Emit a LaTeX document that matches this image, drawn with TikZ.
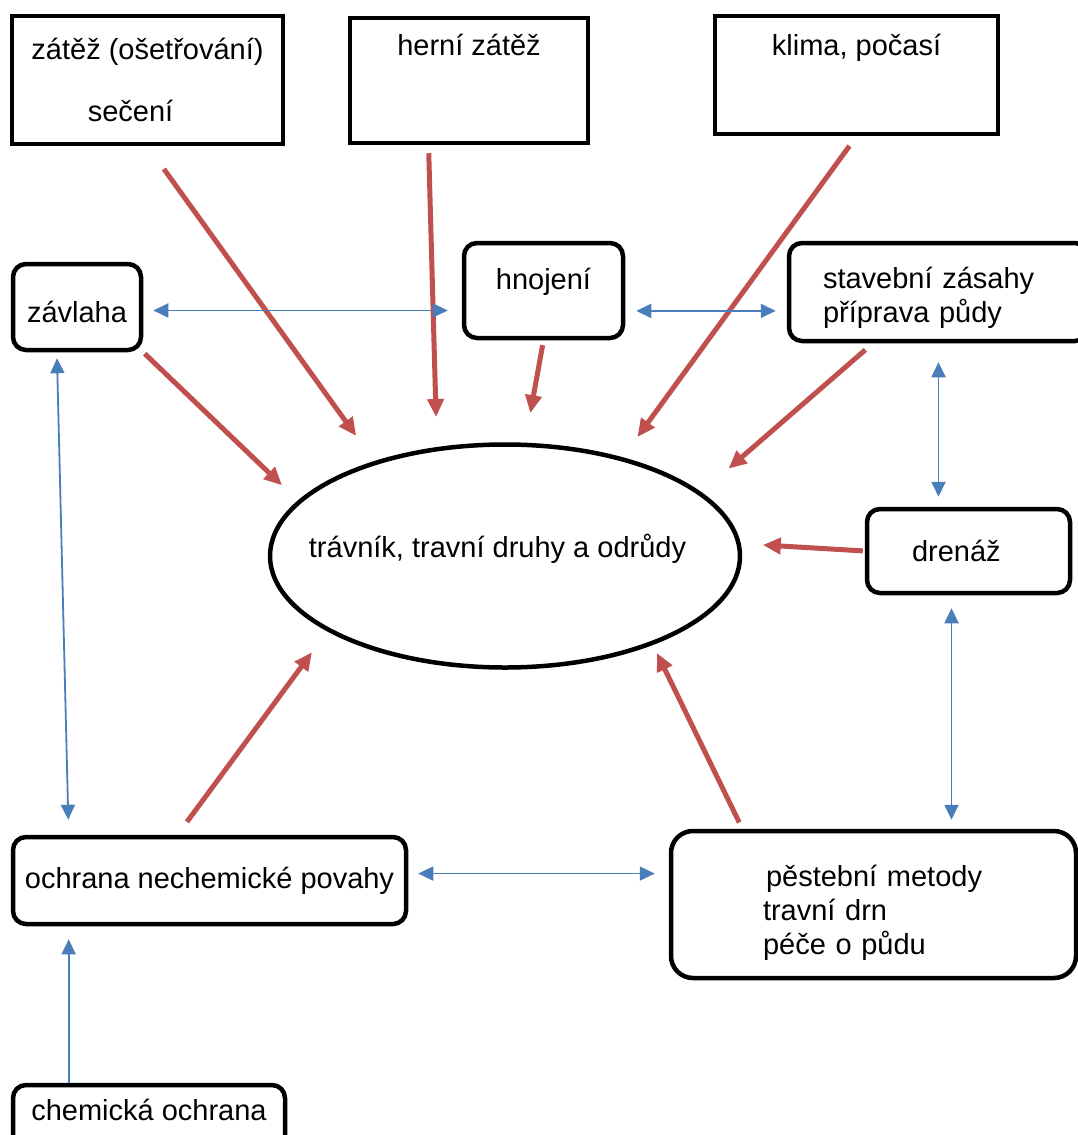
\documentclass[tikz,border=0pt]{standalone}
\usepackage{fontspec}
\setmainfont{Liberation Sans}
\usepackage{tikz}
\usetikzlibrary{arrows.meta,shapes.geometric,calc}
\definecolor{arrowred}{HTML}{C0504D}
\definecolor{arrowblue}{HTML}{4A7EBB}

\begin{document}
\begin{tikzpicture}[x=1pt, y=-1pt]
		% Define styles
		\tikzstyle{box}=[draw,line width=4.5pt,inner sep=0pt,font=\fontsize{29}{34}\selectfont]
		\tikzstyle{round box}=[box,rounded corners=13pt]
		\tikzstyle{red arrow}=[draw,arrowred,line width=5pt,-{Triangle[length=18pt,width=16pt]}]
		\tikzstyle{blue arrow}=[draw,arrowblue,line width=1.8pt,{Triangle[length=15pt,width=14pt]}-{Triangle[length=15pt,width=14pt]}]
		\tikzstyle{blue single}=[draw,arrowblue,line width=1.8pt,-{Triangle[length=15pt,width=14pt]}]
		
		\useasboundingbox (0,0) rectangle (1078,1135);
		
		% Top boxes
		\node[box, minimum width=271pt, minimum height=128pt, align=center] (zatez) at (147.5,80)
			{zátěž (ošetřování)\\[28pt]sečení\hspace*{34pt}};
		\node[box, minimum width=238pt, text height=37pt, text depth=88pt] (herni) at (469,80.5) {herní zátěž};
		\node[box, minimum width=283pt, text height=39pt, text depth=79pt] (klima) at (856.5,75) {klima, počasí};
		
		% Middle row
		\node[round box, minimum width=128pt, minimum height=86pt, text height=30pt, text depth=0pt] (zavlaha) at (77,307) {závlaha};
		\node[round box, minimum width=159pt, text height=46pt, text depth=49pt] (hnojeni) at (543.5,290.5) {hnojení};
		\node[round box, minimum height=98pt, inner xsep=34pt, text width=231pt, align=left] (stavebni) at (938.5,292)
			{\rule{0pt}{34pt}stavební zásahy\\příprava půdy};
		
		% The lawn
		\node[box, ellipse, minimum width=470pt, minimum height=223pt, text height=22pt, text depth=20pt] (travnik) at (505,556)
			{\makebox[0pt]{trávník, travní druhy a odrůdy\hspace*{15pt}}};
		\node[round box, minimum height=84pt, inner xsep=45pt, text width=113pt, align=left] (drenaz) at (968.5,551) {drenáž};
		
		% Bottom boxes
		\node[round box, minimum width=393pt, minimum height=87pt] (ochrana) at (209.5,880.5) {ochrana nechemické povahy};
		\node[round box, rounded corners=22pt, minimum height=147pt, inner xsep=92pt, text width=221pt, align=left] (pestebni) at (873.5,904.5)
			{\rule{0pt}{38pt}\hspace*{3pt}pěstební metody\\travní drn\\péče o půdu};
		\node[round box, minimum width=272pt, text height=35pt, text depth=45pt] (chemicka) at (149,1125) {chemická ochrana};
		
		% Red arrows into the lawn
		\draw[red arrow, shorten <=28pt, shorten >=31pt] (zatez.south) -- (travnik.144);
		\draw[red arrow, shorten <=8pt, shorten >=30pt] (herni.-122) -- (travnik.122);
		\draw[red arrow, shorten <=5pt, shorten >=30pt] (hnojeni.south) -- (travnik.80);
		\draw[red arrow, shorten <=12pt, shorten >=25pt] (klima.south) -- (travnik.40);
		\draw[red arrow, shorten <=10pt, shorten >=36pt] (stavebni.-142) -- (travnik.18);
		\draw[red arrow, shorten <=2pt, shorten >=22pt] (zavlaha.south east) -- (travnik.165);
		\draw[red arrow, shorten <=2pt, shorten >=22pt] (drenaz.west) -- (travnik.3.5);
		\draw[red arrow, shorten <=16pt, shorten >=26pt] (ochrana.125) -- (travnik.203);
		\draw[red arrow, shorten <=7pt, shorten >=9pt] (pestebni.150) -- (travnik.-31);
		
		% Blue links between the boxes
		\draw[blue arrow, shorten <=10pt, shorten >=14pt] (zavlaha.-3) -- (zavlaha.-3 -| hnojeni.west);
		\draw[blue arrow, shorten <=11pt, shorten >=11pt] (hnojeni.-14) -- (hnojeni.-14 -| stavebni.west);
		\draw[blue arrow, shorten <=19pt, shorten >=10pt] (stavebni.south) -- (stavebni.south |- drenaz.north);
		\draw[blue arrow, shorten <=13pt, shorten >=9pt] (drenaz.-111) -- (drenaz.-111 |- pestebni.north);
		\draw[blue arrow, shorten <=10pt, shorten >=14pt] (ochrana.2) -- (ochrana.2 -| pestebni.west);
		\draw[blue arrow, shorten <=6pt, shorten >=15pt] (zavlaha.-114) -- (ochrana.162);
		\draw[blue single, shorten >=13pt] (chemicka.north -| ochrana.-162) -- (ochrana.-162);
		
	\end{tikzpicture}
\end{document}
